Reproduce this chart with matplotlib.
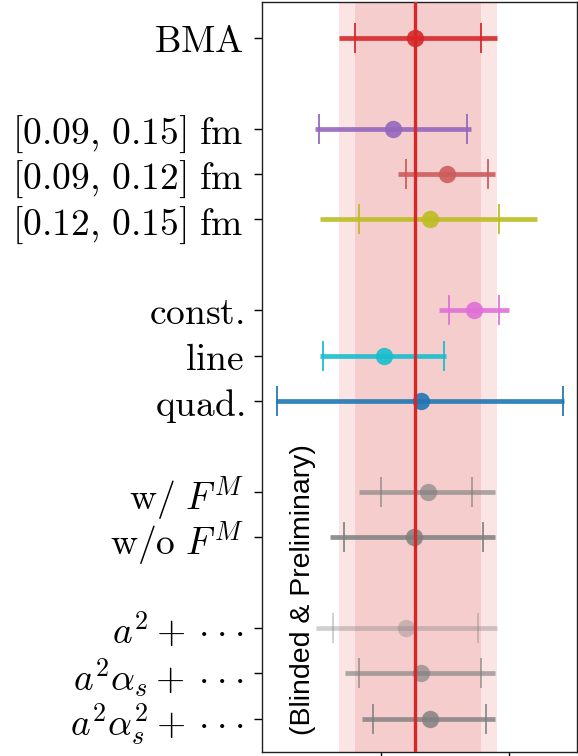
import matplotlib
matplotlib.use("Agg")
import matplotlib.pyplot as plt
import numpy as np

plt.rcParams['mathtext.fontset'] = 'cm'

labels = [r'$\mathrm{BMA}$',
          r'$[0.09,\,0.15]\ \mathrm{fm}$',
          r'$[0.09,\,0.12]\ \mathrm{fm}$',
          r'$[0.12,\,0.15]\ \mathrm{fm}$',
          r'$\mathrm{const.}$',
          r'$\mathrm{line}$',
          r'$\mathrm{quad.}$',
          r'$\mathrm{w/}\ F^M$',
          r'$\mathrm{w/o}\ F^M$',
          r'$a^2+\cdot\!\cdot\!\cdot$',
          r'$a^2\alpha_s+\cdot\!\cdot\!\cdot$',
          r'$a^2\alpha_s^2+\cdot\!\cdot\!\cdot$']
positions = [0, 2, 3, 4, 6, 7, 8, 10, 11, 13, 14, 15]
centers = [0.4266, 0.4091, 0.4516, 0.4383, 0.4724, 0.4021, 0.4313, 0.4365, 0.4255, 0.4195, 0.4313, 0.4380]
outer_lo = [0.3672, 0.3484, 0.4133, 0.3523, 0.4451, 0.3523, 0.3180, 0.3826, 0.3602, 0.3492, 0.3716, 0.3852]
outer_hi = [0.4906, 0.4703, 0.4891, 0.5219, 0.4998, 0.4508, 0.5427, 0.4891, 0.4891, 0.4906, 0.4891, 0.4891]
inner_lo = [0.3797, 0.3516, 0.4195, 0.3828, 0.4531, 0.3547, 0.3188, 0.4000, 0.3709, 0.3625, 0.3826, 0.3935]
inner_hi = [0.4781, 0.4672, 0.4836, 0.4922, 0.4922, 0.4492, 0.5422, 0.4711, 0.4795, 0.4758, 0.4781, 0.4820]
colors = ['#d62728', '#9467bd', '#cd5c5c', '#bcbd22', '#e070d8', '#17becf', '#1f77b4',
          '#7f7f7f', '#7f7f7f', '#7f7f7f', '#7f7f7f', '#7f7f7f']
alphas = [1.0, 1.0, 1.0, 1.0, 1.0, 1.0, 1.0, 0.7, 0.95, 0.4, 0.7, 0.9]
xticks = [0.4, 0.5]

fig = plt.figure(figsize=(5.78, 7.56), dpi=100)
ax = fig.add_axes([262/578, 4/756, 315/578, 750/756])

# BMA bands
ax.axvspan(outer_lo[0], outer_hi[0], color='#d62728', alpha=0.12, lw=0, zorder=0)
ax.axvspan(inner_lo[0], inner_hi[0], color='#d62728', alpha=0.12, lw=0, zorder=0)
ax.axvline(centers[0], color='#d62728', lw=2.4, zorder=3)

for i in range(len(positions)):
    c = centers[i]
    y = positions[i]
    a = alphas[i]
    ax.errorbar([c], [y], xerr=[[c - outer_lo[i]], [outer_hi[i] - c]], fmt='none',
                ecolor=colors[i], elinewidth=3.4, capsize=0, alpha=a * 0.9, zorder=2)
    ax.errorbar([c], [y], xerr=[[c - inner_lo[i]], [inner_hi[i] - c]], fmt='none',
                ecolor=colors[i], elinewidth=0, capsize=10.5, capthick=1.4, alpha=a * 0.9, zorder=2)
    ax.plot([c], [y], 'o', color=colors[i], ms=12.5, alpha=a * 0.9,
            zorder=4 if i == 0 else 2.5, mec='none')

ax.set_yticks(positions)
ax.set_yticklabels(labels, fontsize=27)
ax.set_xticks(xticks)
ax.set_xticklabels([])
ax.tick_params(axis='y', length=6, width=1, pad=7)
ax.tick_params(axis='x', length=6, width=1)
ax.set_xlim(0.4 - 119/1280, 0.4 + 196/1280)
ax.set_ylim(15.73, -0.79)
for s in ax.spines.values():
    s.set_linewidth(1.0)
    s.set_color('#222222')

ax.text(0.130, 0.216, '(Blinded & Preliminary)', rotation=90, transform=ax.transAxes,
        ha='center', va='center', fontsize=20.5, family='Liberation Sans', color='black')

fig.savefig('out.png', dpi=100)
